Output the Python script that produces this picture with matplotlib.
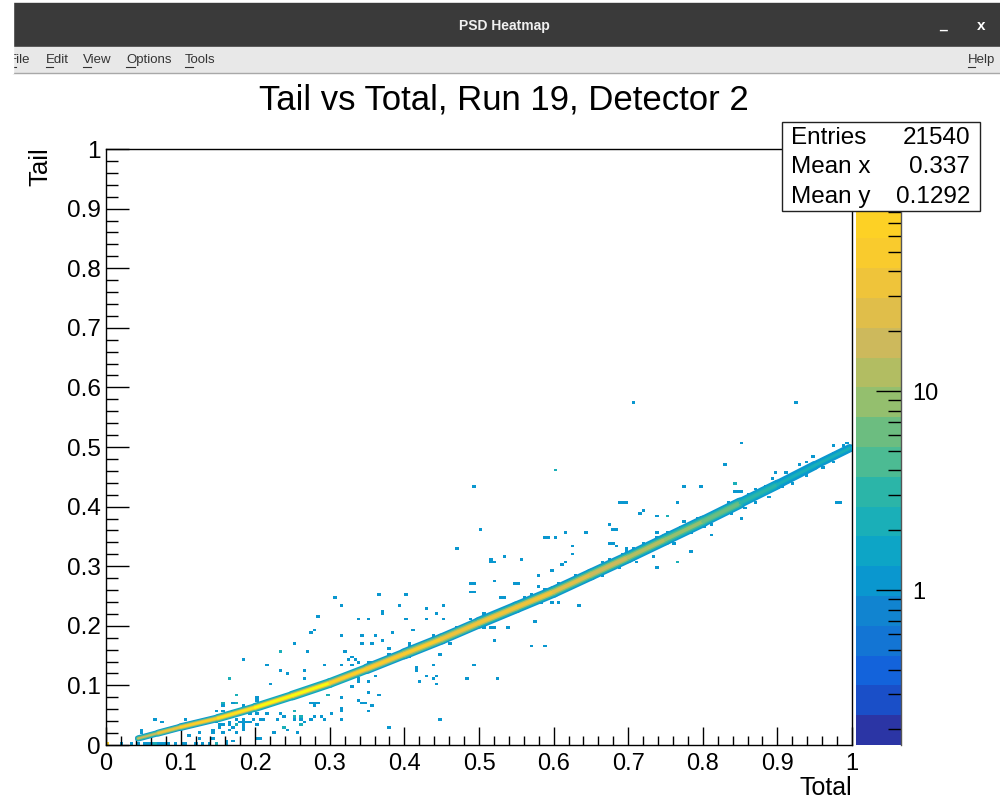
"""PSD heatmap screenshot: ROOT canvas inside a window, Tail vs Total."""

import matplotlib

matplotlib.use("Agg")
import matplotlib.pyplot as plt
import numpy as np
from matplotlib.collections import LineCollection
from matplotlib.colors import ListedColormap, LogNorm
from matplotlib.lines import Line2D
from matplotlib.patches import Rectangle

plt.rcParams["font.family"] = ["Liberation Sans", "DejaVu Sans"]

# isolated cells of the 2D histogram
scatter_x = [
    .308, .364, .404, .318, .391, .428, .371, .372, .441, .284, .351, .404, .431, .337, .275, .281, .384, .411, .315,
    .345, .361, .371, .254, .341, .358, .407, .380, .271, .321, .235, .236, .331, .334, .324, .182, .340, .351, .2145,
    .2945, .318, .331, .4375, .414, .235, .265, .417, .244, .361, .4276, .444, .165, .166, .268, .420, .221, .354, .337,
    .441, .331, .175, .297, .351, .364, .201, .201, .318, .337, .155, .1716, .174, .278, .341, .348, .359, .158, .182,
    .278, .251, .315, .354, .235, .2176, .301, .201, .193, .238, .2516, .261, .278, .288, .175, .315, .260, .2945, .209,
    .231, .251, .274, .446, .264, .195, .1515, .158, .165, .180, .184, .262, .201, .238, .3776, .182, .1716,
    .4946, .5004, .471, .587, .591, .604, .6175, .644, .623, .623, .614, .6096, .5138, .517, .521, .534, .5565, .580,
    .597, .521, .4906, .494, .547, .550, .4906, .494, .580, .531, .534, .5603, .597, .607, .634, .577, .5405, .517, .520,
    .521, .570, .5905, .4468, .4946, .4844, .5244, .45, .4544, .4404,
    .7064, .926, .8544, .8284, .8418, .845, .7967, .773, .6868, .694, .698, .767, .980, .983, .7194, .7166, .7404, .7503,
    .754, .6765, .680, .684, .85, .81, .6765, .680, .684, .6975, .6975, .783, .7135, .7637, .767, .7328, .7404, .737,
    .737, .741, .8432, .847, .853, .6005, .604,
    .068, .0746, .1046, .0487, .0487, .146, .156, .157, .174, .174, .146, .152, .164, .1417, .1237, .1126, .1237, .144,
    .155, .164, .1452, .173, .177, .182, .184, .1885, .182, .1753, .1716, .16, .148, .20, .209, .224, .2377, .244, .258,
    .262, .26, .2513, .251, .2757, .285, .3137, .298, .2109, .1997,
    .022, .032, .042, .052, .056, .06, .064, .068, .072, .076, .08, .084, .092, .104, .108, .12, .13, .14, .148, .16,
]
scatter_y = [
    .2455, .2528, .2528, .232, .236, .229, .2237, .2205, .219, .215, .212, .212, .212, .210, .1896, .193, .1896, .193, .182,
    .182, .182, .173, .169, .169, .169, .169, .1616, .159, .159, .156, .156, .149, .145, .145, .1426, .139, .139, .136,
    .132, .132, .132, .132, .1286, .123, .123, .123, .119, .1158, .1158, .1158, .1124, .1124, .1124, .109, .103, .106, .106,
    .103, .0995, .0856, .0856, .0895, .0856, .080, .076, .079, .0755, .0688, .0727, .0688, .0688, .0688, .0688, .0654, .0654,
    .0654, .0654, .0587, .0587, .0565, .0525, .0525, .0525, .050, .050, .0487, .0487, .0487, .0487, .0487, .0447, .0447,
    .0447, .0447, .042, .042, .042, .042, .0447, .0386, .0386, .0324, .0324, .0364, .0364, .0364, .0324, .0324, .0275, .0275,
    .0275, .0275,
    .436, .362, .328, .3495, .3495, .3495, .357, .357, .3328, .319, .306, .3025, .3115, .306, .3075, .316, .3115, .2858,
    .2925, .2757, .2695, .2695, .2695, .2695, .256, .256, .2657, .249, .249, .249, .2394, .2394, .236, .206, .199, .199, .199,
    .176, .166, .166, .1527, .132, .112, .112, .212, .232, .112,
    .5733, .5766, .507, .4698, .44, .44, .436, .4323, .407, .407, .407, .407, .407, .407, .3954, .3904, .386, .3826,
    .3826, .3696, .362, .362, .379, .353, .3394, .3366, .3327, .3305, .3265, .3233, .3065, .3065, .3065, .316, .2992, .3562,
    .3495, .3495, .4233, .4233, .4233, .4597, .4597,
    .042, .0386, .0447, .020, .0257, .0587, .0688, .0587, .085, .0727, .0386, .0307, .0336, .0257, .0197, .017, .0112, .0197,
    .022, .0235, .0112, .0336, .0336, .0336, .0447, .0386, .0257, .0222, .0055, .0086, .003, .0112, .0112, .0222, .0285,
    .0257, .0197, .0321, .0465, .0475, .0587, .070, .0727, .0597, .085, .043, .0447,
    .002, .002, .002, .002, .002, .002, .002, .002, .002, .002, .002, .002, .002, .002, .002, .002, .002, .002, .002, .002,
]
# single cells that make the rough edge of the ridge
edge_x = [
    .3562, .3808, .4053, .4366, .4701, .4903, .5059, .5238, .5461, .5707, .5864, .6087, .6311,
    .3405, .4076, .4389, .4634, .5059, .5439, .5819, .6043, .6355,
    .6644, .6756, .6913, .707, .7226, .7382, .7538, .7686, .7762, .7918, .812, .8254, .8343, .8455, .8634, .8723, .8835,
    .8924, .8991, .9134, .9313, .9394, .9492, .9729, .9764, .9930, .9885,
    .6644, .6868, .707, .7315, .7628, .783, .8030, .812, .8397, .8567, .8687, .8902, .9058, .9224, .9371, .9630, .9729, .9894,
]
edge_y = [
    .1383, .1539, .1679, .183, .1986, .2126, .2182, .2266, .2350, .2517, .2601, .2685, .2853,
    .1120, .1455, .1707, .1707, .1958, .2182, .2406, .2517, .2713,
    .3077, .3117, .3206, .3273, .3385, .3452, .358, .3676, .376, .3804, .3899, .3916, .4084, .4084, .4223, .4279, .4324,
    .4464, .457, .4587, .4682, .4738, .4827, .4894, .5028, .5073, .5006,
    .2826, .2966, .3105, .3273, .3396, .358, .3664, .3709, .3866, .3972, .4072, .4168, .4335, .4402, .4503, .4659, .4738, .4866,
]
corner_x = [.001]
corner_y = [.001]
corner_counts = [60]

# ridge of the distribution: centre line, thickness and counts in its layers
band_x = [.043, .07, .1, .15, .2, .25, .3, .35, .4, .45, .5, .55, .6, .65, .7, .75, .8, .85, .9, .95, .997]
band_y = [.011, .02, .03, .045, .063, .083, .104, .128, .153, .178, .205, .231, .257, .286, .315, .345, .375, .406, .437,
          .469, .498]
band_thick = [4.5, 5, 5.5, 6, 6.5, 7, 7, 7.5, 8, 8, 8.5, 8.5, 8.5, 8.5, 8.5, 8.5, 8, 7, 6.5, 6, 5]
band_outer = [1.2, 1.2, 1.3, 1.4, 1.4, 1.4, 1.4, 1.3, 1.3, 1.3, 1.3, 1.3, 1.2, 1.2, 1.2, 1.2, 1.1, 1.1, 1.1, 1.1, 1.1]
band_teal = [3, 4, 4, 5, 5, 5, 4, 4, 4, 4, 3.5, 3.5, 3, 3, 2.5, 2.5, 2, 1.5, 1.3, 1.2, 1.2]
band_mid = [6, 12, 18, 25, 30, 25, 18, 15, 14, 14, 12, 11, 10, 9, 7, 5, 4, 2.2, 1.8, 1.5, 1.4]
band_core = [15, 40, 70, 100, 140, 120, 70, 55, 45, 40, 35, 32, 25, 18, 12, 9, 6, 3.5, 2.6, 2.2, 2]

tick_values = [0, .1, .2, .3, .4, .5, .6, .7, .8, .9, 1]
tick_labels = ["0", "0.1", "0.2", "0.3", "0.4", "0.5", "0.6", "0.7", "0.8", "0.9", "1"]
minor_values = [.02, .04, .06, .08, .12, .14, .16, .18, .22, .24, .26, .28, .32, .34, .36, .38, .42, .44, .46, .48,
                .52, .54, .56, .58, .62, .64, .66, .68, .72, .74, .76, .78, .82, .84, .86, .88, .92, .94, .96, .98]

palette = ["#2b35a5", "#1a4fc8", "#1363db", "#1375d4", "#1184d0", "#0a97cf", "#0da5c6", "#1aafb8", "#2bb5a8", "#4cbb93",
           "#6cbd80", "#94bf6e", "#b2bd62", "#cdb95c", "#e0be4a", "#efc43a", "#f9cb2d", "#fdd125", "#fde51c", "#f9fb0e"]
z_min, z_max = 0.167, 165
z_major = [1, 10]
z_major_labels = ["1", "10"]
z_minor = [.2, .3, .4, .5, .6, .7, .8, .9, 2, 3, 4, 5, 6, 7, 8, 9, 20, 30, 40, 50, 60, 70, 80, 90, 100]

stats_names = ["Entries", "Mean x", "Mean y"]
stats_values = ["21540", "0.337", "0.1292"]
menu_items = ["File", "Edit", "View", "Options", "Tools"]
menu_left = [9, 46, 83, 126, 185]
menu_key_width = [7, 7, 8, 9, 8]


def fx(px):
    return px / 1000


def fy(py):
    return 1 - py / 801


def band_layer(ax, values, scale, cmap, norm, zorder):
    points = np.column_stack([band_x, band_y])
    segments = np.stack([points[:-1], points[1:]], axis=1)
    widths = np.array(band_thick[:-1]) * scale
    lines = LineCollection(segments, array=np.array(values[:-1]), cmap=cmap, norm=norm, linewidths=widths,
                           capstyle="round", zorder=zorder)
    ax.add_collection(lines)


def draw_chrome(fig):
    fig.add_artist(Rectangle((fx(13), fy(46)), fx(987), 43 / 801, color="#3a3a3a", zorder=3))
    fig.add_artist(Rectangle((fx(13), fy(72)), fx(987), 25 / 801, color="#e8e8e8", zorder=3))
    fig.add_artist(Line2D([fx(13), 1], [fy(72.5)] * 2, color="#a8a8a8", lw=1, zorder=3))
    fig.text(fx(504), fy(26), "PSD Heatmap", color="#f0f0f0", fontsize=10, fontweight="bold",
             ha="center", va="center", zorder=4)
    fig.text(fx(943), fy(25), "_", color="white", fontsize=10, fontweight="bold", ha="center", va="center", zorder=4)
    fig.text(fx(981), fy(26), "x", color="white", fontsize=11, fontweight="bold", ha="center", va="center", zorder=4)
    for label, left, key in zip(menu_items, menu_left, menu_key_width):
        fig.text(fx(left), fy(60), label, color="#333333", fontsize=9.5, ha="left", va="center", zorder=4)
        fig.add_artist(Line2D([fx(left), fx(left + key)], [fy(67)] * 2, color="#333333", lw=0.8, zorder=4))
    fig.text(fx(968), fy(60), "Help", color="#333333", fontsize=9.5, ha="left", va="center", zorder=4)
    fig.add_artist(Line2D([fx(968), fx(975)], [fy(67)] * 2, color="#333333", lw=0.8, zorder=4))
    fig.add_artist(Rectangle((0, fy(73)), fx(13), 73 / 801, color="white", zorder=5))


def main():
    fig = plt.figure(figsize=(10, 8.01), dpi=100, facecolor="white")
    ax = fig.add_axes([fx(106), fy(745), .746, 596 / 801])
    cmap = ListedColormap(palette)
    norm = LogNorm(z_min, z_max)

    cell_x = scatter_x + edge_x + corner_x
    cell_y = scatter_y + edge_y + corner_y
    weights = [1] * (len(scatter_x) + len(edge_x)) + corner_counts
    counts, xedges, yedges = np.histogram2d(cell_x, cell_y, bins=220, range=[[0, 1], [0, 1]], weights=weights)
    ax.pcolormesh(xedges, yedges, np.ma.masked_equal(counts.T, 0), cmap=cmap, norm=norm, zorder=1)

    band_layer(ax, band_outer, 1.0, cmap, norm, 2)
    band_layer(ax, band_teal, 0.75, cmap, norm, 3)
    band_layer(ax, band_mid, 0.52, cmap, norm, 4)
    band_layer(ax, band_core, 0.3, cmap, norm, 5)

    ax.set_xlim(0, 1)
    ax.set_ylim(0, 1)
    ax.set_xticks(tick_values, tick_labels)
    ax.set_yticks(tick_values, tick_labels)
    ax.set_xticks(minor_values, minor=True)
    ax.set_yticks(minor_values, minor=True)
    ax.tick_params(axis="x", which="major", direction="in", length=13, width=1, labelsize=17, pad=6)
    ax.tick_params(axis="x", which="minor", direction="in", length=6.5, width=1)
    ax.tick_params(axis="y", which="major", direction="in", length=16.5, width=1, labelsize=17.5, pad=4)
    ax.tick_params(axis="y", which="minor", direction="in", length=8.5, width=1)
    for spine in ax.spines.values():
        spine.set_linewidth(1)

    cax = fig.add_axes([fx(855.5), fy(745), 45.5 / 1000, 596 / 801])
    bar = fig.colorbar(plt.cm.ScalarMappable(norm=norm, cmap=cmap), cax=cax)
    bar.outline.set_visible(False)
    cax.set_yticks(z_major, z_major_labels)
    cax.set_yticks(z_minor, minor=True)
    cax.set_yticklabels([], minor=True)
    cax.tick_params(axis="y", which="major", direction="in", length=18, width=1, labelsize=17, pad=8)
    cax.tick_params(axis="y", which="minor", direction="in", length=9.5, width=1)
    fig.add_artist(Line2D([fx(901)] * 2, [fy(745), fy(149)], color="#555555", lw=1, zorder=1))

    fig.text(fx(504), fy(100), "Tail vs Total, Run 19, Detector 2", fontsize=25, ha="center", va="center")
    fig.text(fx(40), fy(147), "Tail", fontsize=18.5, rotation=90, ha="center", va="top")
    fig.text(fx(852), fy(788), "Total", fontsize=18, ha="right", va="center")

    fig.add_artist(Rectangle((fx(782), fy(211)), fx(198), 89 / 801, facecolor="white", edgecolor="#222222", lw=1, zorder=6))
    for row, (name, value) in enumerate(zip(stats_names, stats_values)):
        y = fy(138 + 29.3 * row)
        fig.text(fx(791), y, name, fontsize=17.5, ha="left", va="center", zorder=7)
        fig.text(fx(970), y, value, fontsize=17.5, ha="right", va="center", zorder=7)

    draw_chrome(fig)
    fig.savefig("out.png", dpi=100)


if __name__ == "__main__":
    main()
